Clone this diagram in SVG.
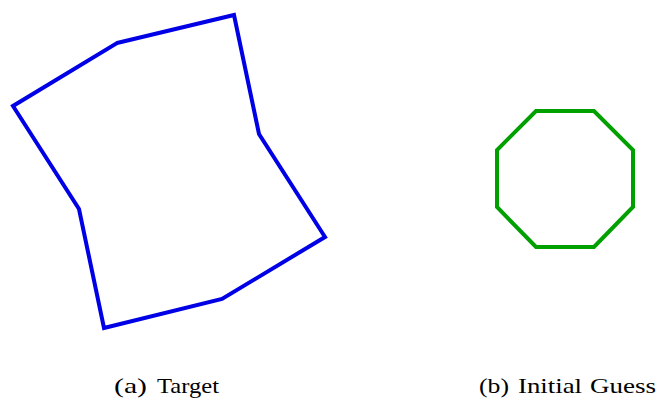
<svg xmlns="http://www.w3.org/2000/svg" width="659" height="401" viewBox="0 0 659 401">
<style>
.shape{fill:none;stroke-width:4;stroke-linejoin:miter;stroke-linecap:square}
.cap{font-family:"Liberation Serif","DejaVu Serif",serif;font-size:22px;fill:#000}
</style>
<rect width="659" height="401" fill="#fff"/>
<g id="target">
<polygon class="shape" stroke="#0000e6" points="117,43 234,15 259,134 325,237 222,299 104,328 79,209 13,106"/>
</g>
<g id="guess">
<polygon class="shape" stroke="#00a000" points="536,111 594,111 633,150 633,207 594,247 536,247 497,207 497,150"/>
</g>
<g id="captions">
<text class="cap" x="114" y="393" textLength="33" lengthAdjust="spacingAndGlyphs">(a)</text>
<text class="cap" x="157" y="393" textLength="62" lengthAdjust="spacingAndGlyphs">Target</text>
<text class="cap" x="479" y="393" textLength="30" lengthAdjust="spacingAndGlyphs">(b)</text>
<text class="cap" x="518" y="393" textLength="64" lengthAdjust="spacingAndGlyphs">Initial</text>
<text class="cap" x="590" y="393" textLength="66" lengthAdjust="spacingAndGlyphs">Guess</text>
</g>
</svg>
